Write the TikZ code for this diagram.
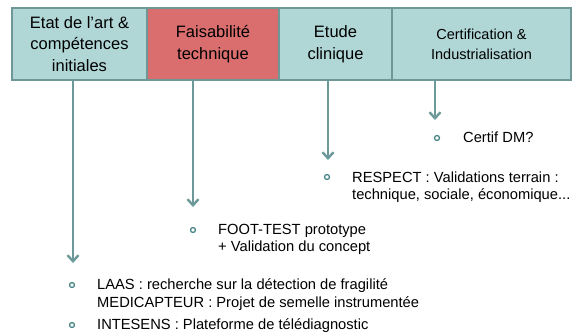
\documentclass[tikz,border=0pt]{standalone}
\usepackage{fontspec}
\setmainfont{Liberation Sans}
\usetikzlibrary{arrows.meta}
\definecolor{boxfill}{HTML}{B0D6D6}
\definecolor{boxline}{HTML}{6E9898}
\definecolor{redfill}{HTML}{DA6E6E}
\definecolor{arrcol}{HTML}{6C9A9A}
\definecolor{bulcol}{HTML}{4A8587}
\tikzset{
  phase/.style={draw=boxline, line width=2.2pt, minimum height=72pt, inner sep=0pt, align=center, text=black,
    font=\fontsize{16.5}{21.5}\selectfont},
  arr/.style={draw=arrcol, line width=2.4pt, -{Straight Barb[length=6pt,width=11pt,line width=2.4pt]}},
  bul/.style={circle, draw=bulcol, line width=1.3pt, inner sep=0pt, minimum size=5pt},
  body/.style={anchor=base west, inner sep=0pt, text=black,
    font=\fontsize{14.7}{17.5}\selectfont},
}
\begin{document}
\begin{tikzpicture}[x=1pt,y=-1pt]
\useasboundingbox (0,0) rectangle (573,336);
% phase boxes
\node[phase, fill=boxfill, minimum width=135pt] (b1) at (79.5,44) {Etat de l’art \&\\compétences\\initiales};
\node[phase, fill=redfill, minimum width=132pt] (b2) at (213,44) {Faisabilité\\technique};
\node[phase, fill=boxfill, minimum width=113pt] (b3) at (335.5,44) {Etude\\clinique};
\node[phase, fill=boxfill, minimum width=179pt, font=\fontsize{14.5}{20}\selectfont] (b4) at (481.5,44) {Certification \&\\Industrialisation};
% arrow tips
\coordinate (t1) at (73,263);
\coordinate (t2) at (193,207);
\coordinate (t3) at (328,160);
\coordinate (t4) at (435,120);
\draw[arr] (t1 |- b1.south) -- (t1);
\draw[arr] (t2 |- b2.south) -- (t2);
\draw[arr] (t3 |- b3.south) -- (t3);
\draw[arr] (t4 |- b4.south) -- (t4);
% bullets and texts
\node[bul] (p1) at (72,285) {};
\node[body] (x1) at (97,290) {LAAS : recherche sur la détection de fragilité};
\node[body] (x1b) at (97,308) {MEDICAPTEUR : Projet de semelle instrumentée};
\node[bul] (p2) at (72,325) {};
\node[body] (x2) at (97,330) {INTESENS : Plateforme de télédiagnostic};
\node[bul] (p3) at (193,230) {};
\node[body] (x3) at (218,235) {FOOT-TEST prototype};
\node[body] (x3b) at (218,252) {+ Validation du concept};
\node[bul] (p4) at (327,177) {};
\node[body] (x4) at (352,183) {RESPECT : Validations terrain :};
\node[body] (x4b) at (352,200) {technique, sociale, économique...};
\node[bul] (p5) at (437,138) {};
\node[body] (x5) at (463,143) {Certif DM?};
\end{tikzpicture}
\end{document}
